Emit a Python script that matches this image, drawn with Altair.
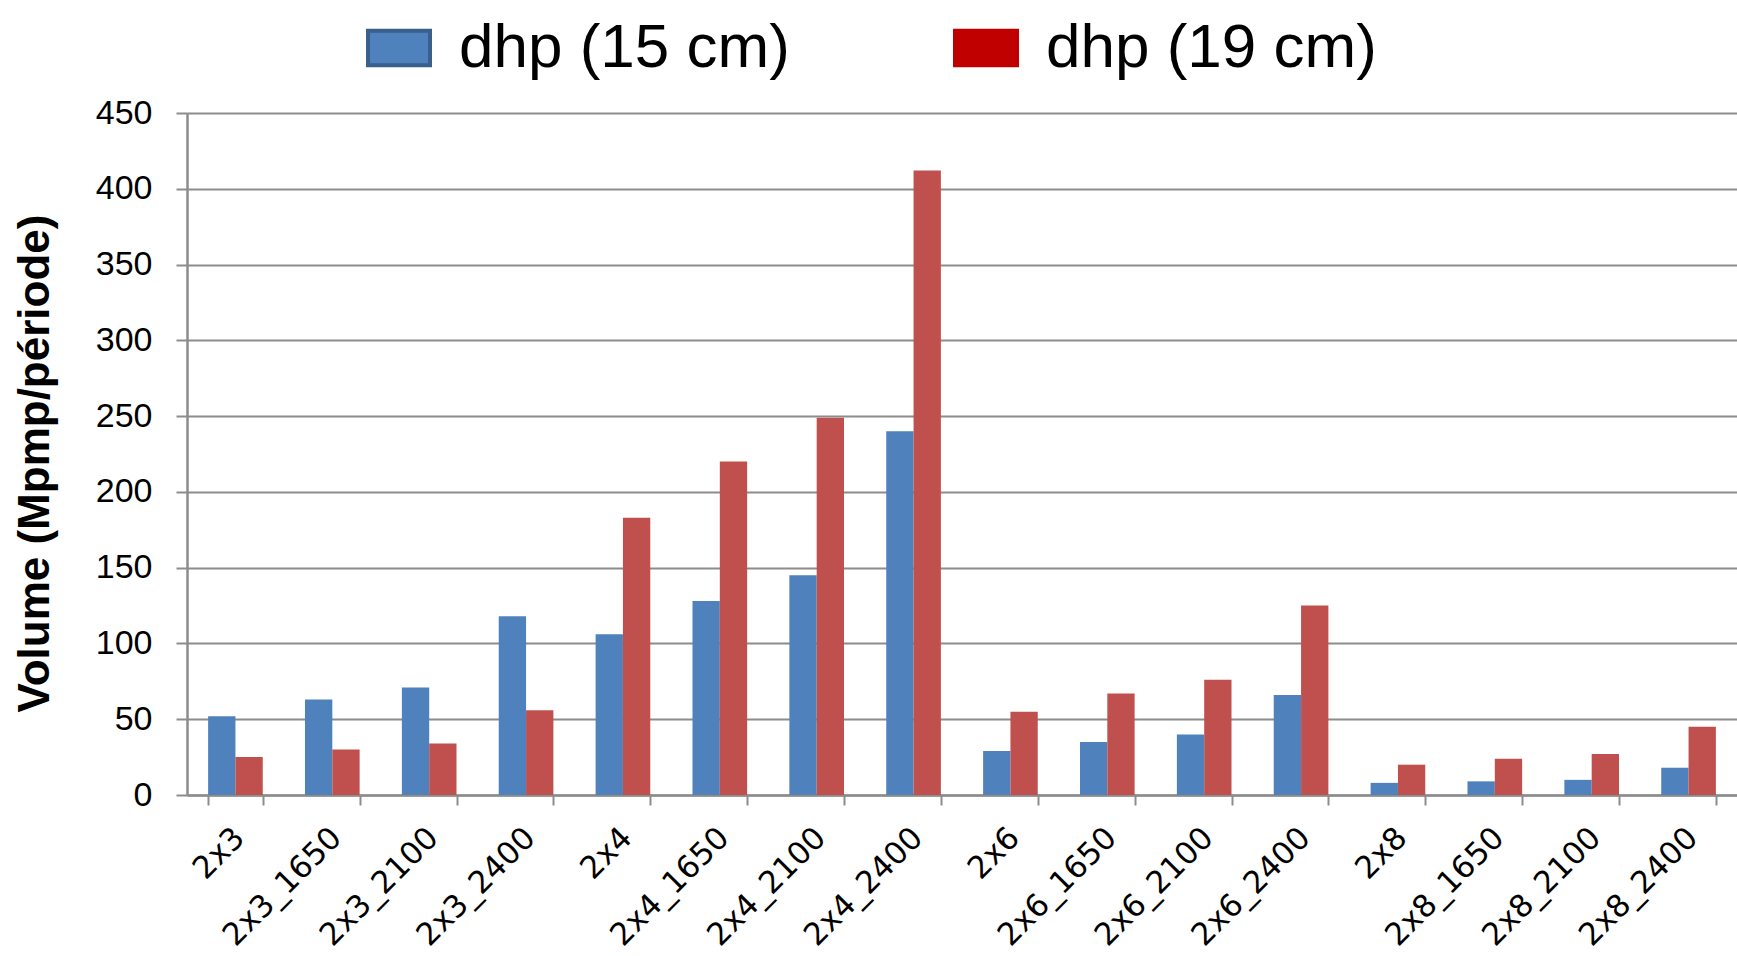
import altair as alt
import pandas as pd

# Lumber products and volumes per period for the two DBH thresholds
categories = ["2x3", "2x3_1650", "2x3_2100", "2x3_2400",
              "2x4", "2x4_1650", "2x4_2100", "2x4_2400",
              "2x6", "2x6_1650", "2x6_2100", "2x6_2400",
              "2x8", "2x8_1650", "2x8_2100", "2x8_2400"]
dhp_15 = [52, 63, 71, 118, 106, 128, 145, 240, 29, 35, 40, 66, 8, 9, 10, 18]
dhp_19 = [25, 30, 34, 56, 183, 220, 249, 412, 55, 67, 76, 125, 20, 24, 27, 45]
series = ["dhp (15 cm)", "dhp (19 cm)"]
bar_colors = ["#4F81BD", "#C0504D"]
legend_colors = ["#4F81BD", "#C00000"]

rows = []
for cat, a, b in zip(categories, dhp_15, dhp_19):
    rows.append({"produit": cat, "serie": series[0], "volume": a})
    rows.append({"produit": cat, "serie": series[1], "volume": b})
df = pd.DataFrame(rows)

GRID = "#8C8C8C"
SANS = "Liberation Sans, Arial, sans-serif"

# legend swatches: blue with a darker outline, solid red
swatch_stroke = {"expr": "datum.value === 'dhp (15 cm)' ? '#3A5F8B' : '#C00000'"}

base = alt.Chart(df)

bars = base.mark_bar().encode(
    x=alt.X("produit:N", sort=categories,
            scale=alt.Scale(paddingInner=0.436, paddingOuter=0.218),
            axis=alt.Axis(title=None, labelAngle=-45, labelAlign="right",
                          labelBaseline="middle", labelFont="DejaVu Sans",
                          labelFontSize=31, labelColor="#000000",
                          labelPadding=28, labelOffset=4, tickBand="extent",
                          tickSize=10, tickColor=GRID, tickWidth=2,
                          domainColor=GRID, domainWidth=2.5, grid=False)),
    xOffset=alt.XOffset("serie:N", sort=series,
                        scale=alt.Scale(paddingInner=0, paddingOuter=0)),
    y=alt.Y("volume:Q", scale=alt.Scale(domain=[0, 450], nice=False),
            axis=alt.Axis(title="Volume (Mpmp/période)", values=list(range(0, 451, 50)),
                          titleFont=SANS, titleFontSize=44, titleFontWeight="bold",
                          titleColor="#000000", titlePadding=38, titleY=350,
                          labelFont=SANS, labelFontSize=34, labelColor="#000000",
                          labelPadding=24, tickSize=11, tickColor=GRID, tickWidth=2,
                          domainColor=GRID, domainWidth=2.5,
                          grid=True, gridColor=GRID, gridWidth=2)),
    color=alt.Color("serie:N", sort=series,
                    scale=alt.Scale(domain=series, range=bar_colors), legend=None),
)

# legend-only layer (no rows pass the filter) carrying the swatch colours
legend_layer = base.transform_filter("false").mark_point(filled=True).encode(
    color=alt.Color("serie:N", sort=series,
                    scale=alt.Scale(domain=series, range=legend_colors),
                    legend=alt.Legend(title=None, orient="none", direction="horizontal",
                                      legendX=179, legendY=-98,
                                      symbolType="M-1,-0.56L1,-0.56L1,0.56L-1,0.56Z",
                                      symbolSize=3844, symbolStrokeWidth=4,
                                      symbolStrokeColor=swatch_stroke,
                                      symbolOpacity=1,
                                      labelFont=SANS, labelFontSize=62, labelLimit=0,
                                      labelColor="#000000", labelOffset=27,
                                      columnPadding=157)),
)

chart = alt.layer(bars, legend_layer).resolve_scale(color="independent").properties(
    width=1550,
    height=682,
    autosize=alt.AutoSizeParams(type="none"),
    padding={"left": 187, "top": 113, "right": 0, "bottom": 161},
).configure_view(stroke=None).configure(background="#FFFFFF")

chart.save("out.html", embed_options={"renderer": "svg", "actions": False})
